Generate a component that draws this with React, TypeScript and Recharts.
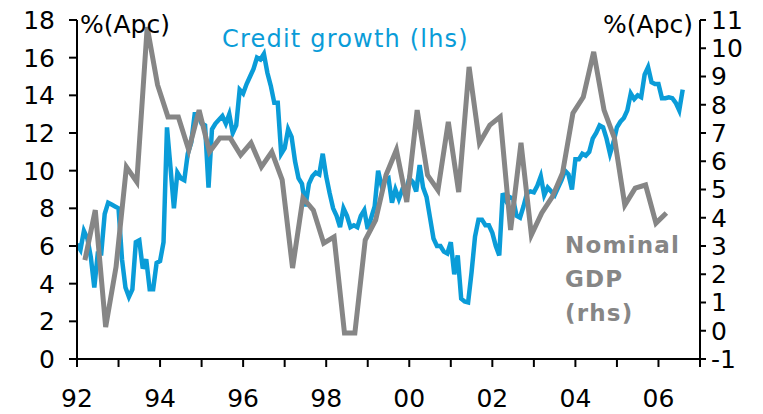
import { Line, LineChart, XAxis, YAxis } from "recharts";

// credit growth, % y/y, monthly from Jan 1992 (lhs)
const creditGrowth = [
	6.1, 5.8, 6.8, 6.4, 5.4, 3.8, 5.6, 5.6, 7.7, 8.3, 8.2, 8.1,
	8.0, 5.3, 3.8, 3.3, 3.7, 6.2, 6.3, 4.8, 5.3, 3.7, 3.7, 5.1,
	5.2, 6.2, 12.3, 10.2, 8.0, 9.9, 9.6, 9.5, 10.9, 11.5, 13.0, 13.0,
	12.5, 12.4, 9.1, 12.2, 12.5, 12.7, 12.9, 12.5, 13.0, 12.0, 12.4, 14.3,
	14.1, 14.6, 15.0, 15.4, 16.0, 15.9, 16.2, 15.2, 14.5, 13.6, 13.6, 10.9,
	11.2, 12.2, 11.8, 10.5, 9.6, 9.3, 8.1, 9.3, 9.7, 9.9, 9.8, 10.9,
	9.7, 8.8, 8.0, 7.6, 7.0, 8.0, 7.6, 7.0, 7.1, 7.0, 7.6, 7.9,
	6.9, 7.5, 8.1, 10.0, 9.2, 9.5, 9.6, 8.3, 9.0, 8.5, 9.0, 8.9,
	9.6, 9.4, 8.9, 10.3, 9.1, 8.6, 7.5, 6.4, 6.0, 6.0, 5.7, 5.6,
	6.2, 4.5, 5.5, 3.2, 3.05, 3.0, 4.6, 6.5, 7.4, 7.4, 7.1, 7.1,
	6.7, 6.0, 5.5, 8.8, 8.4, 8.6, 8.5, 7.6, 7.5, 8.1, 8.8, 8.9,
	8.85, 9.2, 9.7, 8.7, 9.1, 8.9, 8.7, 9.1, 9.5, 10.0, 9.8, 9.0,
	10.6, 10.6, 10.9, 10.8, 11.0, 11.7, 12.0, 12.4, 12.3, 11.7, 10.9, 11.5,
	12.3, 12.6, 12.8, 13.2, 14.1, 13.8, 14.0, 13.9, 15.1, 15.5, 14.7, 14.6,
	14.6, 13.85, 13.85, 13.9, 13.85, 13.6, 13.2, 14.3,
];

// nominal GDP, % y/y, quarterly (rhs)
const nominalGdp = [
	2.5, 4.27, 0.13, 2.26, 5.8, 5.27, 10.75, 8.7, 7.57, 7.57, 6.4, 7.81,
	6.33, 6.82, 6.82, 6.22, 6.65, 5.8, 6.33, 5.34, 2.22, 4.7, 4.27, 3.1,
	3.32, -0.08, -0.08, 3.21, 3.92, 5.51, 6.4, 4.56, 7.81, 5.51, 4.98, 7.39,
	4.91, 9.34, 6.65, 7.28, 7.57, 3.57, 6.65, 3.39, 4.17, 4.73, 5.58, 7.7,
	8.27, 9.87, 7.81, 6.82, 4.45, 5.05, 5.16, 3.81, 4.17,
];

const years = [1992, 1993, 1994, 1995, 1996, 1997, 1998, 1999, 2000, 2001, 2002, 2003, 2004, 2005, 2006, 2007];
const leftTicks = [0, 2, 4, 6, 8, 10, 12, 14, 16, 18];
const rightTicks = [-1, 0, 1, 2, 3, 4, 5, 6, 7, 8, 9, 10, 11];

const creditData = creditGrowth.map((v, i) => ({ t: 1992 + i / 12, credit: v }));
const gdpData = nominalGdp.map((v, i) => ({ t: 1992.19 + i * 0.25, gdp: v }));

const BLUE = "#0a9cd8";
const GREY = "#868686";
const font = "DejaVu Sans";
const tickStyle = { fill: "#000", fontSize: 25, fontFamily: font };

export default function App() {
	return (
		<div style={{ position: "absolute", left: 0, top: 0, width: 763, height: 414, background: "#fff" }}>
			<LineChart width={763} height={414} margin={{ top: 20, right: 13, bottom: 10, left: 17 }}>
				<XAxis
					type="number"
					dataKey="t"
					domain={[1992, 2007]}
					ticks={years}
					interval={0}
					allowDataOverflow
					tickFormatter={(y: number) => (y % 2 === 0 ? String(y).slice(2) : "")}
					tick={tickStyle}
					tickSize={8}
					tickMargin={22}
					height={45}
					axisLine={{ stroke: "#000", strokeWidth: 2 }}
					tickLine={{ stroke: "#000", strokeWidth: 2 }}
				/>
				<YAxis
					yAxisId="l"
					domain={[0, 18]}
					ticks={leftTicks}
					interval={0}
					tick={tickStyle}
					tickSize={8}
					tickMargin={14}
					width={60}
					axisLine={{ stroke: "#000", strokeWidth: 2 }}
					tickLine={{ stroke: "#000", strokeWidth: 2 }}
				/>
				<YAxis
					yAxisId="r"
					orientation="right"
					domain={[-1, 11]}
					ticks={rightTicks}
					interval={0}
					tick={tickStyle}
					tickSize={6}
					tickMargin={5}
					width={50}
					axisLine={{ stroke: "#000", strokeWidth: 2 }}
					tickLine={{ stroke: "#000", strokeWidth: 2 }}
				/>
				<Line
					data={creditData}
					yAxisId="l"
					dataKey="credit"
					type="linear"
					stroke={BLUE}
					strokeWidth={4.5}
					dot={false}
					isAnimationActive={false}
				/>
				<Line
					data={gdpData}
					yAxisId="r"
					dataKey="gdp"
					type="linear"
					stroke={GREY}
					strokeWidth={5}
					dot={false}
					isAnimationActive={false}
				/>
			</LineChart>
			<svg width={763} height={414} style={{ position: "absolute", left: 0, top: 0, pointerEvents: "none" }}>
				<text x={80} y={33} fontFamily={font} fontSize={25} fill="#000">%(Apc)</text>
				<text x={693} y={33} fontFamily={font} fontSize={25} fill="#000" textAnchor="end">%(Apc)</text>
				<text x={222} y={47} fontFamily={font} fontSize={24} fill={BLUE} letterSpacing={1.2}>
					Credit growth (lhs)
				</text>
				<g fontFamily={font} fontSize={23} fontWeight="bold" fill={GREY} letterSpacing={1.2}>
					<text x={565} y={253}>Nominal</text>
					<text x={565} y={287}>GDP</text>
					<text x={565} y={321}>(rhs)</text>
				</g>
			</svg>
		</div>
	);
}
